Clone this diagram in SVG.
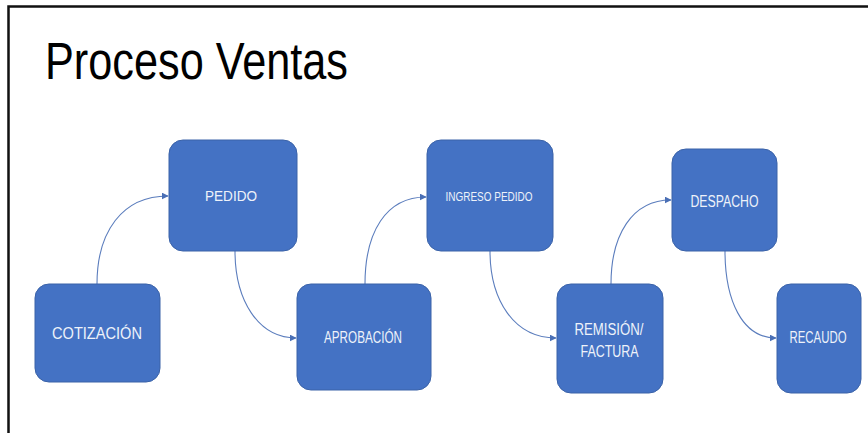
<svg xmlns="http://www.w3.org/2000/svg" width="868" height="433" viewBox="0 0 868 433">
  <defs>
    <style>
      .box { fill: #4472C4; stroke: #3A62A8; stroke-width: 1; }
      .lbl { fill: #EEF2FA; font-family: "Liberation Sans", Arial, sans-serif; text-anchor: middle; }
      .link { fill: none; stroke: #5B7DBD; stroke-width: 1.1; marker-end: url(#arrow); }
      .title { fill: #000; font-family: "Liberation Sans", Arial, sans-serif; font-size: 51px; }
    </style>
    <marker id="arrow" viewBox="0 0 10 10" refX="9" refY="5" markerWidth="7" markerHeight="7" markerUnits="userSpaceOnUse" orient="auto">
      <path d="M0,0 L10,5 L0,10 z" fill="#4A6FB5"/>
    </marker>
  </defs>

  <rect width="868" height="433" fill="#fff"/>
  <!-- slide frame: top and left edges -->
  <path d="M8.5,433 L8.5,6.5 L868,6.5" fill="none" stroke="#111" stroke-width="2.5"/>

  <text class="title" x="45" y="79" textLength="303" lengthAdjust="spacingAndGlyphs">Proceso Ventas</text>

  <g id="connectors">
    <path class="link" d="M97,284 C97,232 122,196 168,196"/>
    <path class="link" d="M235,251 C235,300 258,338 296,338"/>
    <path class="link" d="M365,284 C365,232 386,197 426,197"/>
    <path class="link" d="M490,251 C490,300 514,338 556,338"/>
    <path class="link" d="M611,284 C611,235 632,200 671,200"/>
    <path class="link" d="M725,251 C725,300 742,338 776,338"/>
  </g>

  <g id="cotizacion">
    <rect class="box" x="35" y="284" width="125" height="98" rx="14"/>
    <text class="lbl" x="97" y="339" font-size="17" textLength="90" lengthAdjust="spacingAndGlyphs">COTIZACIÓN</text>
  </g>
  <g id="pedido">
    <rect class="box" x="169" y="140" width="128" height="111" rx="14"/>
    <text class="lbl" x="231" y="201" font-size="14.5" textLength="52" lengthAdjust="spacingAndGlyphs">PEDIDO</text>
  </g>
  <g id="aprobacion">
    <rect class="box" x="297" y="284" width="134" height="106" rx="14"/>
    <text class="lbl" x="363" y="343" font-size="16" textLength="78" lengthAdjust="spacingAndGlyphs">APROBACIÓN</text>
  </g>
  <g id="ingreso-pedido">
    <rect class="box" x="427" y="140" width="126" height="111" rx="14"/>
    <text class="lbl" x="489" y="201" font-size="12.5" textLength="87" lengthAdjust="spacingAndGlyphs">INGRESO PEDIDO</text>
  </g>
  <g id="remision-factura">
    <rect class="box" x="557" y="284" width="106" height="109" rx="14"/>
    <text class="lbl" x="609" y="335" font-size="16" textLength="69" lengthAdjust="spacingAndGlyphs">REMISIÓN/</text>
    <text class="lbl" x="609.5" y="356.5" font-size="16" textLength="58" lengthAdjust="spacingAndGlyphs">FACTURA</text>
  </g>
  <g id="despacho">
    <rect class="box" x="672" y="149" width="105" height="102" rx="14"/>
    <text class="lbl" x="724.5" y="206.5" font-size="16" textLength="68" lengthAdjust="spacingAndGlyphs">DESPACHO</text>
  </g>
  <g id="recaudo">
    <rect class="box" x="777" y="284" width="84" height="109" rx="14"/>
    <text class="lbl" x="818" y="343" font-size="16" textLength="57" lengthAdjust="spacingAndGlyphs">RECAUDO</text>
  </g>
</svg>
